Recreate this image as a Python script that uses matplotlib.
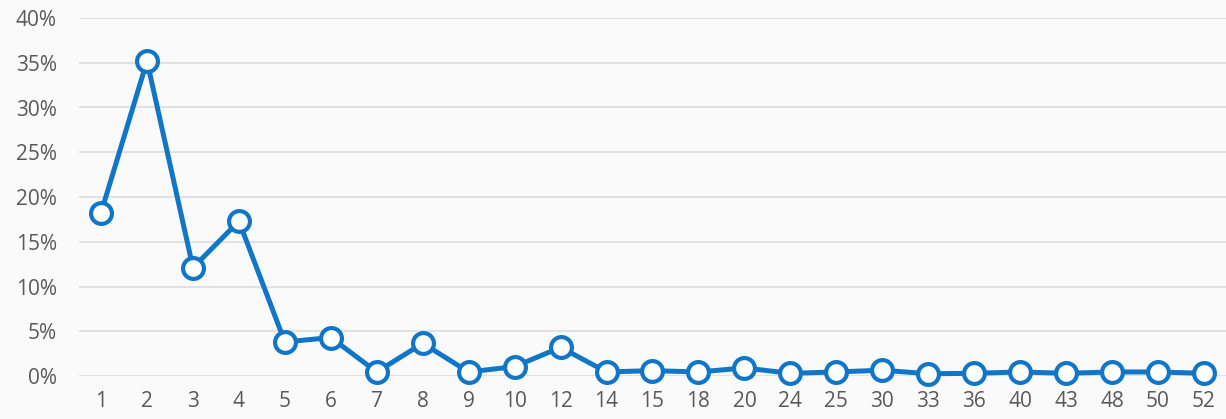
import numpy as np
import matplotlib.pyplot as plt

categories = ["1", "2", "3", "4", "5", "6", "7", "8", "9", "10", "12", "14", "15",
              "18", "20", "24", "25", "30", "33", "36", "40", "43", "48", "50", "52"]
values = [18.25, 35.2, 12.1, 17.3, 3.8, 4.3, 0.45, 3.65, 0.45, 1.05, 3.2, 0.45, 0.6,
          0.45, 0.9, 0.3, 0.45, 0.65, 0.25, 0.3, 0.45, 0.3, 0.45, 0.45, 0.3]
yticks = [0, 5, 10, 15, 20, 25, 30, 35, 40]

plt.rcParams['font.family'] = ['Open Sans', 'DejaVu Sans']

fig = plt.figure(figsize=(12.26, 4.19), dpi=100, facecolor="#fafafa")
ax = fig.add_axes([79 / 1226, 43 / 419, 1147 / 1226, 358 / 419])
ax.set_facecolor("#fafafa")

x = np.arange(len(categories))
ax.plot(x, values, color="#1176c8", lw=3.6, marker="o", ms=15,
        mfc="white", mec="#1176c8", mew=3, zorder=3, clip_on=False)

ax.set_xlim(-0.48, len(categories) - 1 + 0.48)
ax.set_ylim(0, 40)
ax.set_xticks(x)
ax.set_xticklabels(categories)
ax.set_yticks(yticks)
ax.set_yticklabels([f"{t}%" for t in yticks])
ax.grid(axis="y", color="#dcdcdc", lw=1.2)
ax.set_axisbelow(True)
for s in ax.spines.values():
    s.set_visible(False)
ax.tick_params(length=0, labelsize=15, labelcolor="#595959")
ax.tick_params(axis="y", pad=16)
ax.tick_params(axis="x", pad=11)

fig.savefig("out.png", dpi=100, facecolor=fig.get_facecolor())
